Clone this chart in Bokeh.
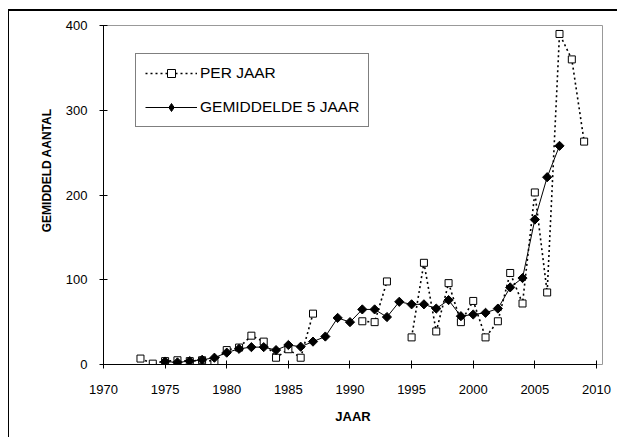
import math
from bokeh.plotting import figure
from bokeh.models import ColumnDataSource, Legend, LegendItem, FixedTicker, Title
from bokeh.embed import file_html
from bokeh.resources import INLINE

nan = float("nan")

years_per = list(range(1973, 2010))
per_jaar = [7, 1, 4, 5, 4, 5, 4, 17, 20, 34, 27, 8, 18, 8, 60,
            nan, nan, nan, 51, 50, 98, nan, 32, 120, 39, 96, 50, 75,
            32, 51, 108, 72, 203, 85, 390, 360, 263]

years_avg = list(range(1975, 2008))
gem_5_jaar = [3.5, 2.5, 4, 5.5, 8, 14, 18.5, 20.5, 20.5, 17, 23, 21, 27,
              33, 55, 50, 65, 65, 56, 74, 71, 71, 66, 76, 57, 59, 61, 66,
              91, 102, 171, 221, 258]

x_ticks = [1970, 1975, 1980, 1985, 1990, 1995, 2000, 2005, 2010]
y_ticks = [0, 100, 200, 300, 400]

FONT = "Liberation Sans"

p = figure(width=608, height=426, output_backend="svg", toolbar_location=None,
           x_range=(1970, 2010.49), y_range=(0, 400),
           min_border_left=94, min_border_right=15, min_border_top=14,
           min_border_bottom=73)
p.frame_width = 499
p.frame_height = 339
p.styles = {"margin-left": "8px", "margin-top": "9px",
            "border-top": "2px solid black", "border-left": "1px solid black"}
p.background_fill_color = "white"
p.border_fill_color = "white"
p.outline_line_color = "#999999"
p.outline_line_width = 1
p.grid.visible = False

src_per = ColumnDataSource(dict(x=years_per, y=per_jaar))
src_avg = ColumnDataSource(dict(x=years_avg, y=gem_5_jaar))
src_leg = ColumnDataSource(dict(x=[nan], y=[nan]))

l1 = p.line("x", "y", source=src_per, line_color="black", line_width=1.6,
            line_dash="2 3")
m1 = p.scatter("x", "y", source=src_per, marker="square", size=7,
               fill_color="white", line_color="black", line_width=1)
l2 = p.line("x", "y", source=src_avg, line_color="black", line_width=1)
m2 = p.scatter("x", "y", source=src_avg, marker="square", size=6.5,
               angle=math.pi / 4, fill_color="black", line_color="black")
m2_leg = p.scatter("x", "y", source=src_leg, marker="diamond", size=10,
                   fill_color="black", line_color="black")

legend = Legend(items=[LegendItem(label="PER JAAR", renderers=[l1, m1]),
                       LegendItem(label="GEMIDDELDE 5 JAAR", renderers=[l2, m2_leg])],
                location=(32, 237))
legend.label_text_font = FONT
legend.label_text_font_size = "15.5px"
legend.label_text_color = "black"
legend.glyph_width = 52
legend.glyph_height = 20
legend.label_height = 20
legend.label_standoff = 3
legend.spacing = 14
legend.padding = 9
legend.margin = 0
legend.border_line_color = "black"
legend.border_line_width = 1
legend.background_fill_color = "white"
legend.background_fill_alpha = 1
p.add_layout(legend, "center")

for ax in (p.xaxis[0], p.yaxis[0]):
    ax.axis_line_color = "black"
    ax.axis_line_width = 1
    ax.major_tick_line_color = "black"
    ax.major_tick_in = 4
    ax.major_tick_out = 4
    ax.minor_tick_line_color = None
    ax.major_label_text_font = FONT
    ax.major_label_text_font_size = "13px"
    ax.major_label_text_color = "black"
    ax.axis_label_text_font = FONT
    ax.axis_label_text_font_size = "13px"
    ax.axis_label_text_font_style = "bold"
    ax.axis_label_text_color = "black"

p.xaxis.ticker = FixedTicker(ticks=x_ticks)
p.xaxis.bounds = (1970, 2010)
p.xaxis.axis_label = "JAAR"
p.xaxis.major_label_standoff = 16
p.xaxis.axis_label_standoff = 12

p.yaxis.ticker = FixedTicker(ticks=y_ticks)
p.yaxis.major_label_standoff = 12

ytitle = Title(text="GEMIDDELD AANTAL", align="right", offset=83,
               text_font=FONT, text_font_size="12px", text_font_style="bold",
               text_color="black", standoff=17)
p.add_layout(ytitle, "left")

open("out.html", "w").write(file_html(p, INLINE))
